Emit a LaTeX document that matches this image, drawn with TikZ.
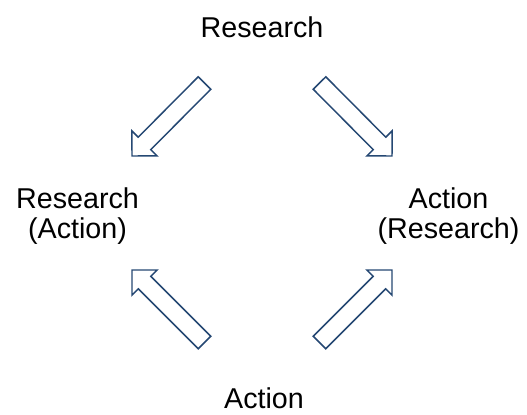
\documentclass[tikz,border=0pt]{standalone}
\usepackage{fontspec}
\setmainfont{Liberation Sans}
\usetikzlibrary{calc}

\definecolor{arrowblue}{RGB}{37,72,115}

\tikzset{
	label text/.style={inner sep=0.75pt, align=center, font=\fontsize{21.5}{22.5}\selectfont},
	block arrow/.style={draw=arrowblue, line width=1.1pt, fill=white}
}

% hollow block arrow from #1 (tail) to #2 (tip)
\newcommand{\blockarrow}[2]{%
	\coordinate (hb) at ($(#2)!13.3pt!(#1)$);
	\draw[block arrow] ($(#1)!6.64pt!90:(#2)$) -- ($(hb)!6.64pt!90:(#2)$) -- ($(hb)!13.3pt!90:(#2)$) -- (#2)
		-- ($(hb)!13.3pt!-90:(#2)$) -- ($(hb)!6.64pt!-90:(#2)$) -- ($(#1)!6.64pt!-90:(#2)$) -- cycle;
}

\begin{document}
\begin{tikzpicture}[x=0.75pt,y=0.75pt,yscale=-1,xscale=1]
	\useasboundingbox (0,0) rectangle (527,414);

	% Text Node
	\node[label text] (res) at (262,27) {Research};
	% Text Node
	\node[label text] (resact) at (77.5,216) {Research\\(Action)};
	% Text Node
	\node[label text] (actres) at (448.5,216) {Action\\(Research)};
	% Text Node
	\node[label text] (act) at (264,398) {Action};

	% arrow ends
	\coordinate (tlTail) at (204.5,83);
	\coordinate (tlTip) at (132,156);
	\coordinate (trTail) at (319.5,83);
	\coordinate (trTip) at (392,156);
	\coordinate (blTail) at (204.5,342.5);
	\coordinate (blTip) at (132,270);
	\coordinate (brTail) at (319.5,342.5);
	\coordinate (brTip) at (392,270);

	% Connection
	\blockarrow{tlTail}{tlTip}
	% Connection
	\blockarrow{trTail}{trTip}
	% Connection
	\blockarrow{blTail}{blTip}
	% Connection
	\blockarrow{brTail}{brTip}

\end{tikzpicture}
\end{document}
